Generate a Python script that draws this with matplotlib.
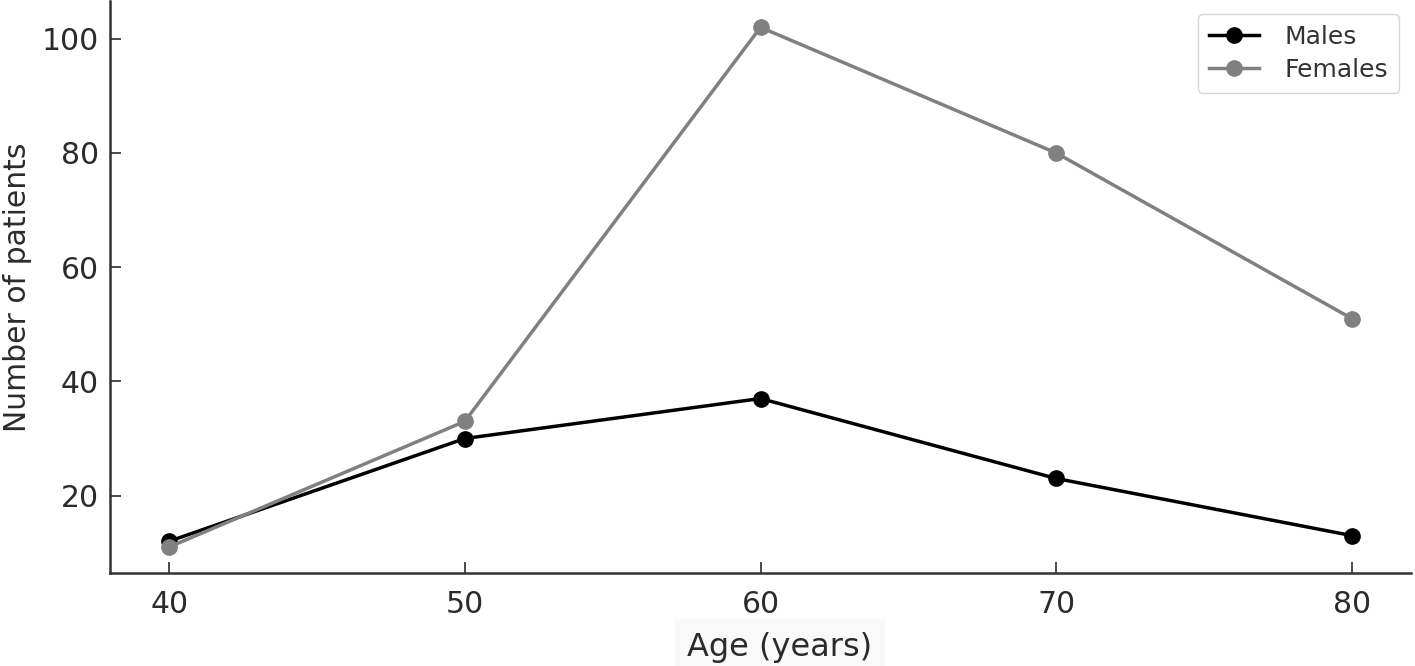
import matplotlib
matplotlib.use("Agg")
import matplotlib.pyplot as plt

ages = [40, 50, 60, 70, 80]
males = [12, 30, 37, 23, 13]
females = [11, 33, 102, 80, 51]
xticks = [40, 50, 60, 70, 80]
yticks = [20, 40, 60, 80, 100]

plt.rcParams['font.family'] = ['DejaVu Sans']
fig = plt.figure(figsize=(14.15, 6.66), dpi=100)
ax = fig.add_axes([110/1415, 1-573/666, (1411-110)/1415, 573/666 - 0.002])

ax.plot(ages, males, color='black', lw=2.5, marker='o', ms=11, label='Males')
ax.plot(ages, females, color='#808080', lw=2.5, marker='o', ms=11, label='Females')

ax.set_xticks(xticks)
ax.set_yticks(yticks)
ax.tick_params(direction='in', length=8, width=1.2, labelsize=21.5, colors='#2b2b2b', pad=12)
ax.tick_params(axis='y', pad=8)
for s in ['top', 'right']:
    ax.spines[s].set_visible(False)
for s in ['left', 'bottom']:
    ax.spines[s].set_linewidth(1.8)
    ax.spines[s].set_color('#333333')

ax.set_xlabel('Age (years)', fontsize=23, color='#2b2b2b',
              bbox=dict(facecolor='#f9f9f9', edgecolor='none', pad=9))
ax.xaxis.set_label_coords(0.515, -0.103)
ax.set_ylabel('Number of patients', fontsize=21.5, color='#2b2b2b')
ax.yaxis.set_label_coords(-0.060, 0.5)

leg = ax.legend(loc='upper right', fontsize=18, frameon=True, fancybox=True,
                bbox_to_anchor=(0.9908, 0.978), borderaxespad=0,
                handlelength=2.0, borderpad=0.45,
                labelspacing=0.35, handletextpad=1.0)
leg.get_frame().set_edgecolor('#cccccc')
for t in leg.get_texts():
    t.set_color('#333333')

fig.savefig('out.png', dpi=100)
